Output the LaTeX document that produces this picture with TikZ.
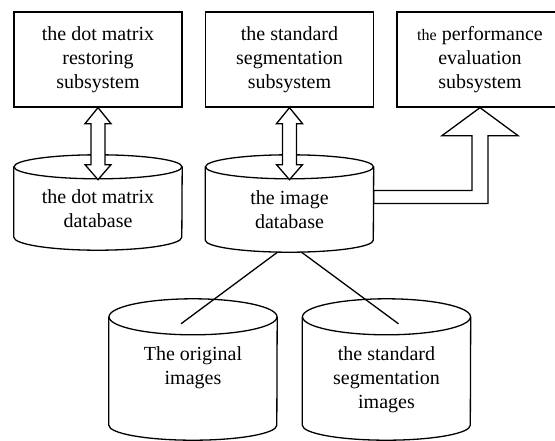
\documentclass[tikz,border=0pt]{standalone}
\usepackage{fontspec}
\setmainfont{Liberation Serif}
\usetikzlibrary{calc}

% drum outline round a named body node: #1 node, #2 top radius, #3 bottom radius
\newcommand{\dbdrum}[3]{%
  \draw[link] (#1.north west) -- (#1.south west)
    arc[start angle=180,end angle=360,x radius=84pt,y radius=#3]
    -- (#1.north east);
  \draw[link] (#1.north) ellipse[x radius=84pt,y radius=#2];
}

\begin{document}
\begin{tikzpicture}[x=1pt,y=-1pt,
      subsys/.style={rectangle,draw=black,line width=1.3pt,
                     minimum width=168pt,minimum height=95pt,align=center,
                     font=\fontsize{20}{24}\selectfont},
      dbase/.style={rectangle,draw=none,minimum width=168pt,inner sep=0pt},
      dbtext/.style={align=center,inner sep=0pt,anchor=north,
                     font=\fontsize{20}{24}\selectfont},
      hollow/.style={draw=black,line width=1.3pt,fill=white,line join=miter},
      link/.style={draw=black,line width=1.3pt}
    ]
    \useasboundingbox (0,0) rectangle (555,440);

    % Subsystems
    \node[subsys] (dotbox) at (98,59.5) {the dot matrix\\restoring\\subsystem};
    \node[subsys] (segbox) at (289.5,59.5) {the standard\\segmentation\\subsystem};
    \node[subsys,minimum width=166pt] (evalbox) at (480,59.5)
      {{\fontsize{16}{24}\selectfont the} performance\\evaluation\\subsystem};

    % Databases
    \node[dbase,minimum height=70pt] (dotdb) at (98,202) {};
    \node[dbase,minimum height=73pt] (imgdb) at (289.5,203.5) {};
    \node[dbase,minimum height=108pt] (origdb) at (193,371) {};
    \node[dbase,minimum height=108pt] (segdb) at (386.5,371) {};
    \dbdrum{dotdb}{12pt}{13pt}
    \dbdrum{imgdb}{12pt}{12pt}
    \dbdrum{origdb}{18pt}{15pt}
    \dbdrum{segdb}{18pt}{15pt}

    \node[dbtext] (dottxt) at (98,189) {the dot matrix\\database};
    \node[dbtext] (imgtxt) at (289.5,190) {the image\\database};
    \node[dbtext] (origtxt) at (193,346) {The original\\images};
    \node[dbtext] (segtxt) at (386.5,346) {the standard\\segmentation\\images};

    % Two-way exchange
    \draw[hollow] (dotbox.south) -- ++(13,16) -- ++(-6,0) -- ++(0,41) -- ++(6,0)
      -- ++(-13,15) -- ++(-13,-15) -- ++(6,0) -- ++(0,-41) -- ++(-6,0) -- cycle;
    \draw[hollow] (segbox.south) -- ++(13,16) -- ++(-6,0) -- ++(0,41) -- ++(6,0)
      -- ++(-13,15) -- ++(-13,-15) -- ++(6,0) -- ++(0,-41) -- ++(-6,0) -- cycle;

    % Evaluation feed
    \draw[hollow,fill=none] (evalbox.south) -- ++(38,28) -- ++(-30,0) |- (imgdb.east)
      -- ++(0,-13) -| ($(evalbox.south)+(-8,28)$) -- ++(-30,0) -- cycle;

    % Image sets
    \draw[link] ($(imgdb.south)+(-12,12)$) -- ($(origdb.north)+(-12,7)$);
    \draw[link] ($(imgdb.south)+(12,12)$) -- ($(segdb.north)+(12,7)$);

  \end{tikzpicture}
\end{document}
